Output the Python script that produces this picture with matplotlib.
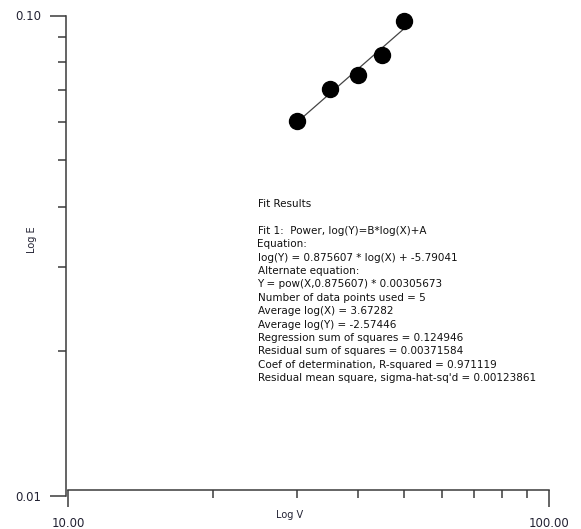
import numpy as np
import matplotlib
matplotlib.use("Agg")
import matplotlib.pyplot as plt
from matplotlib.ticker import FixedLocator, NullFormatter

# data
v_values = [30, 35, 40, 45, 50]
e_values = [0.0602, 0.0704, 0.0753, 0.0827, 0.0972]

# fit coefficients from the fit results box
fit_b = 0.875607
fit_a = -5.79041

x_major = [10, 100]
x_major_labels = ["10.00", "100.00"]
x_minor = [20, 30, 40, 50, 60, 70, 80, 90]
y_major = [0.01, 0.1]
y_major_labels = ["0.01", "0.10"]
y_minor = [0.02, 0.03, 0.04, 0.05, 0.06, 0.07, 0.08, 0.09]

fit_lines = [
    "Fit Results",
    "",
    "Fit 1:  Power, log(Y)=B*log(X)+A",
    "Equation:",
    "log(Y) = 0.875607 * log(X) + -5.79041",
    "Alternate equation:",
    "Y = pow(X,0.875607) * 0.00305673",
    "Number of data points used = 5",
    "Average log(X) = 3.67282",
    "Average log(Y) = -2.57446",
    "Regression sum of squares = 0.124946",
    "Residual sum of squares = 0.00371584",
    "Coef of determination, R-squared = 0.971119",
    "Residual mean square, sigma-hat-sq'd = 0.00123861",
]

W, H = 581, 529
fig = plt.figure(figsize=(W / 100, H / 100), dpi=100)
ax = fig.add_axes([68 / W, (H - 496) / H, (549 - 68) / W, (496 - 15.5) / H])

ax.set_xscale("log")
ax.set_yscale("log")
ax.set_xlim(10, 100)
ax.set_ylim(0.01, 0.1)

axis_col = "#3a3a3a"
for s in ["top", "right"]:
    ax.spines[s].set_visible(False)
ax.spines["left"].set_position(("outward", 1.7))
ax.spines["bottom"].set_position(("outward", -4.3))
for s in ["left", "bottom"]:
    ax.spines[s].set_color(axis_col)
    ax.spines[s].set_linewidth(1.1)

ax.xaxis.set_major_locator(FixedLocator(x_major))
ax.xaxis.set_minor_locator(FixedLocator(x_minor))
ax.set_xticklabels(x_major_labels)
ax.xaxis.set_minor_formatter(NullFormatter())
ax.yaxis.set_major_locator(FixedLocator(y_major))
ax.yaxis.set_minor_locator(FixedLocator(y_minor))
ax.set_yticklabels(y_major_labels)
ax.yaxis.set_minor_formatter(NullFormatter())

ax.tick_params(axis="x", which="major", length=12, width=1.1, color=axis_col,
               pad=7.5, labelsize=8.5, labelcolor="#222233")
ax.tick_params(axis="x", which="minor", length=6, width=1.1, color=axis_col)
ax.tick_params(axis="y", which="major", length=11.5, width=1.1, color=axis_col,
               pad=6, labelsize=8.5, labelcolor="#222233")
ax.tick_params(axis="y", which="minor", length=5.5, width=1.1, color=axis_col)

# fitted power line between first and last point
fit_x = np.array([v_values[0], v_values[-1]])
fit_y = np.exp(fit_b * np.log(fit_x) + fit_a)
ax.plot(fit_x, fit_y, color="#444444", linewidth=0.9, zorder=2)
ax.plot(v_values, e_values, "o", color="black", markersize=11.5, zorder=3,
        clip_on=False)

fig.text(32 / W, 1 - 240 / H, "Log E", rotation=90, ha="center", va="center",
         fontsize=7, color="#222233")
fig.text(289.5 / W, 1 - 515 / H, "Log V", ha="center", va="center",
         fontsize=7, color="#222233")

for i, line in enumerate(fit_lines):
    fig.text(257.5 / W, 1 - (204 + 13.4 * i) / H, line, ha="left", va="center",
             fontsize=7.5, color="#111111")

fig.savefig("out.png", dpi=100)
